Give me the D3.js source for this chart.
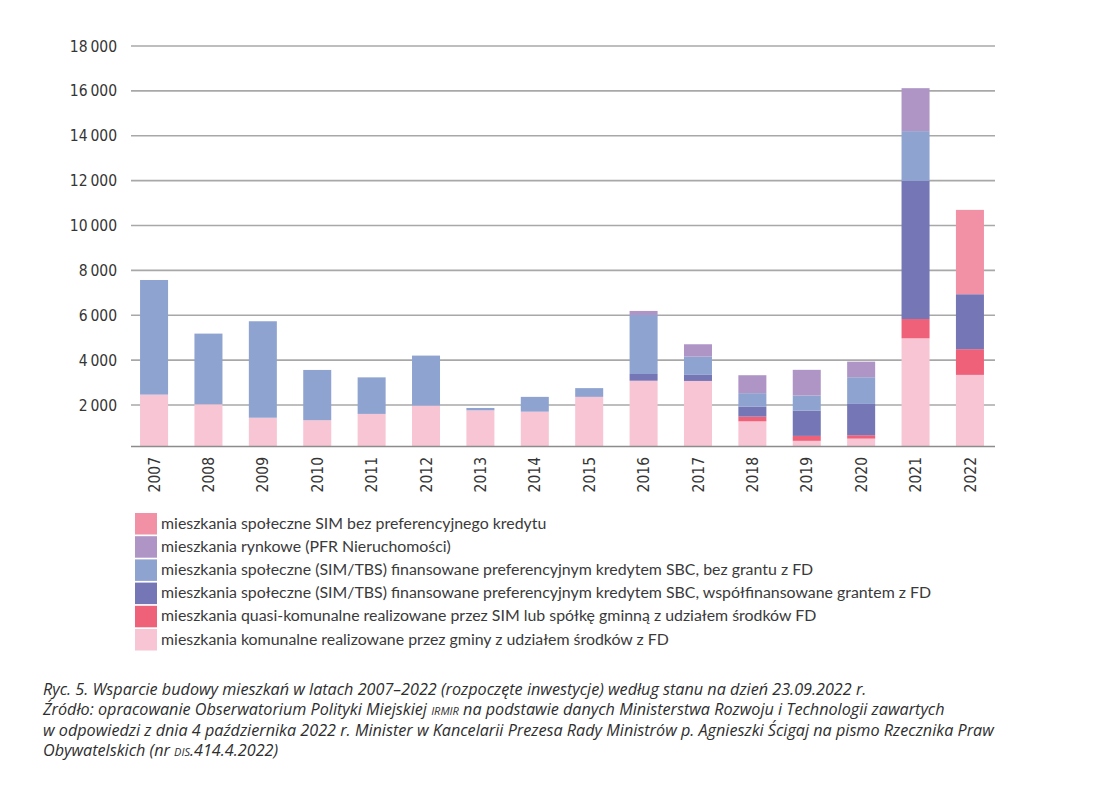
<!DOCTYPE html>
<html>
<head>
<meta charset="utf-8">
<script src="https://cdn.jsdelivr.net/npm/d3@7"></script>
<style>
  body { margin: 0; background: #fff; }
  svg { display: block; }
</style>
</head>
<body>
<svg id="chart" width="1100" height="794"></svg>
<script>
// years on the x axis
const years = ['2007', '2008', '2009', '2010', '2011', '2012', '2013', '2014',
  '2015', '2016', '2017', '2018', '2019', '2020', '2021', '2022'];

// series values (bottom of the stack first)
const communal   = [2460, 2030, 1430, 1320, 1600, 1970, 1760, 1700, 2360, 3080, 3070, 1270, 400, 500, 4970, 3340];
const quasi      = [0, 0, 0, 0, 0, 0, 0, 0, 0, 0, 0, 210, 220, 150, 860, 1145];
const withGrant  = [0, 0, 0, 0, 0, 0, 0, 0, 0, 300, 270, 450, 1130, 1395, 6160, 2450];
const noGrant    = [5110, 3150, 4300, 2240, 1630, 2230, 105, 660, 390, 2630, 815, 595, 670, 1190, 2215, 0];
const market     = [0, 0, 0, 0, 0, 0, 0, 0, 0, 180, 550, 800, 1145, 695, 1915, 0];
const simNoPref  = [0, 0, 0, 0, 0, 0, 0, 0, 0, 0, 0, 0, 0, 0, 0, 3760];

const yTicks = [2000, 4000, 6000, 8000, 10000, 12000, 14000, 16000, 18000];

const seriesKeys = ['communal', 'quasi', 'withGrant', 'noGrant', 'market', 'simNoPref'];
const seriesValues = { communal, quasi, withGrant, noGrant, market, simNoPref };
const seriesColors = {
  communal: '#f7c5d3',
  quasi: '#ef6079',
  withGrant: '#7476b6',
  noGrant: '#8fa3d1',
  market: '#af95c5',
  simNoPref: '#f290a6'
};
const seriesNames = {
  simNoPref: 'mieszkania społeczne SIM bez preferencyjnego kredytu',
  market: 'mieszkania rynkowe (PFR Nieruchomości)',
  noGrant: 'mieszkania społeczne (SIM/TBS) finansowane preferencyjnym kredytem SBC, bez grantu z FD',
  withGrant: 'mieszkania społeczne (SIM/TBS) finansowane preferencyjnym kredytem SBC, współfinansowane grantem z FD',
  quasi: 'mieszkania quasi-komunalne realizowane przez SIM lub spółkę gminną z udziałem środków FD',
  communal: 'mieszkania komunalne realizowane przez gminy z udziałem środków z FD'
};
// legend runs top to bottom in reverse stack order
const legendOrder = ['simNoPref', 'market', 'noGrant', 'withGrant', 'quasi', 'communal'];

const svg = d3.select('#chart');

// table for the stack layout
let table = years.map(function(yr, i) {
  let row = { year: yr };
  seriesKeys.forEach(function(k) { row[k] = seriesValues[k][i]; });
  return row;
});
let stacked = d3.stack().keys(seriesKeys)(table);

const x = d3.scaleBand()
  .domain(years)
  .range([127, 997])
  .paddingInner(0.485)
  .paddingOuter(0.24);

const y = d3.scaleLinear()
  .domain([170, 18000])
  .range([446, 46])
  .clamp(true);

const axisFont = '"DejaVu Sans Condensed", "Liberation Sans Narrow", sans-serif';

// gridlines
svg.append('g')
  .attr('class', 'grid')
  .selectAll('line')
  .data(yTicks)
  .enter()
  .append('line')
  .attr('x1', 131)
  .attr('x2', 995)
  .attr('y1', function(d) { return y(d); })
  .attr('y2', function(d) { return y(d); })
  .style('stroke', '#a8a8a8')
  .style('stroke-width', 1.6);

// y tick labels
svg.append('g')
  .selectAll('text')
  .data(yTicks)
  .enter()
  .append('text')
  .attr('x', 117)
  .attr('y', function(d) { return y(d); })
  .attr('dy', '0.36em')
  .attr('text-anchor', 'end')
  .style('font-family', axisFont)
  .style('font-size', '15.5px')
  .style('fill', '#353535')
  .text(function(d) { return d3.format(',')(d).replace(',', '\u2009'); });

// stacked bars
svg.append('g')
  .selectAll('g')
  .data(stacked)
  .enter()
  .append('g')
  .style('fill', function(d) { return seriesColors[d.key]; })
  .selectAll('rect')
  .data(function(d) { return d; })
  .enter()
  .append('rect')
  .attr('x', function(d) { return x(d.data.year); })
  .attr('width', x.bandwidth())
  .attr('y', function(d) { return y(d[1]); })
  .attr('height', function(d) { return Math.max(0, y(d[0]) - y(d[1])); });

// baseline
svg.append('line')
  .attr('x1', 131)
  .attr('x2', 995)
  .attr('y1', 446.5)
  .attr('y2', 446.5)
  .style('stroke', '#8c8c8c')
  .style('stroke-width', 1.6);

// year labels, rotated
svg.append('g')
  .selectAll('text')
  .data(years)
  .enter()
  .append('text')
  .attr('transform', function(d) {
    return 'translate(' + (x(d) + x.bandwidth() / 2) + ',457) rotate(-90)';
  })
  .attr('dy', '0.36em')
  .attr('text-anchor', 'end')
  .style('font-family', axisFont)
  .style('font-size', '15.5px')
  .style('fill', '#353535')
  .text(function(d) { return d; });

// legend
let legend = svg.append('g')
  .selectAll('g')
  .data(legendOrder)
  .enter()
  .append('g')
  .attr('transform', function(d, i) { return 'translate(135,' + (513 + i * 23.2) + ')'; });

legend.append('rect')
  .attr('width', 22)
  .attr('height', 21.5)
  .style('fill', function(d) { return seriesColors[d]; });

legend.append('text')
  .attr('x', 26)
  .attr('y', 15.5)
  .style('font-family', 'Lato, sans-serif')
  .style('font-size', '15.9px')
  .style('fill', '#3a3a3a')
  .text(function(d) { return seriesNames[d]; });

// caption, with small caps for the acronyms
const captionLines = [
  [['Ryc. 5. Wsparcie budowy mieszkań w latach 2007–2022 (rozpoczęte inwestycje) według stanu na dzień 23.09.2022 r.', false]],
  [['Źródło: opracowanie Obserwatorium Polityki Miejskiej ', false], ['irmir', true],
   [' na podstawie danych Ministerstwa Rozwoju i Technologii zawartych', false]],
  [['w odpowiedzi z dnia 4 października 2022 r. Minister w Kancelarii Prezesa Rady Ministrów p. Agnieszki Ścigaj na pismo Rzecznika Praw', false]],
  [['Obywatelskich (nr ', false], ['dis', true], ['.414.4.2022)', false]]
];

let caption = svg.append('g')
  .selectAll('text')
  .data(captionLines)
  .enter()
  .append('text')
  .attr('x', 43)
  .attr('y', function(d, i) { return 695 + i * 20.4; })
  .style('font-family', '"Open Sans", sans-serif')
  .style('font-style', 'italic')
  .style('font-size', '16.2px')
  .style('fill', '#2e2e2e');

caption.selectAll('tspan')
  .data(function(d) { return d; })
  .enter()
  .append('tspan')
  .style('font-variant', function(d) { return d[1] ? 'small-caps' : null; })
  .text(function(d) { return d[0]; });
</script>
</body>
</html>
